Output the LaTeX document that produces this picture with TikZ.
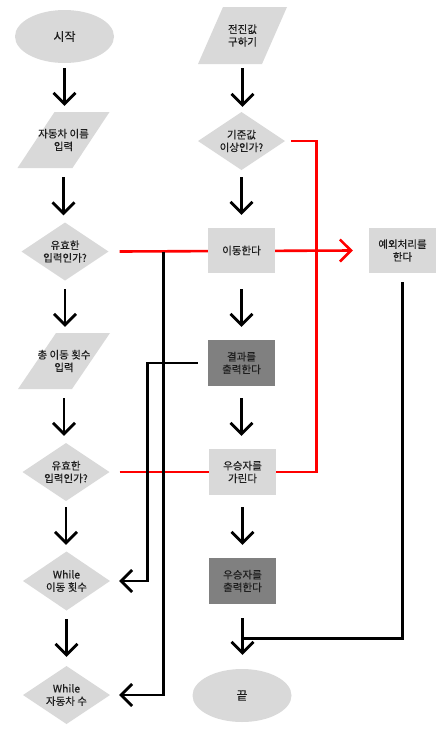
\documentclass[tikz,border=0pt]{standalone}
\usepackage{fontspec}
\setmainfont{Noto Sans CJK KR}[FakeBold=0.35]
\usetikzlibrary{shapes.geometric,arrows.meta,calc,backgrounds}

\definecolor{boxfill}{HTML}{D9D9D9}
\definecolor{darkfill}{HTML}{808080}
\definecolor{inktext}{HTML}{1E1E1E}
\definecolor{flowred}{HTML}{FF0000}

\tikzset{
  pslant/.store in=\pslant, pslant=25pt,
  base/.style={inner sep=0pt, align=center, text=inktext,
    font=\fontsize{10.5}{12.6}\selectfont},
  terminal/.style={base, ellipse, fill=boxfill, minimum width=99pt, minimum height=53pt,
    font=\fontsize{12}{14}\selectfont},
  process/.style={base, rectangle, fill=boxfill, minimum width=67pt, minimum height=45pt},
  output/.style={process, fill=darkfill},
  io/.style={base, rectangle, minimum height=56pt,
    path picture={\fill[boxfill]
      ([xshift=\pslant]path picture bounding box.north west)
      -- (path picture bounding box.north east)
      -- ([xshift=-\pslant]path picture bounding box.south east)
      -- (path picture bounding box.south west) -- cycle;}},
  decision/.style={base, rectangle, minimum width=87pt, minimum height=58pt,
    path picture={\fill[boxfill]
      (path picture bounding box.north) -- (path picture bounding box.east)
      -- (path picture bounding box.south) -- (path picture bounding box.west) -- cycle;}},
  conn/.style={draw=black, line width=2.8pt},
  arr/.style={conn, -{Straight Barb[length=11pt,width=22pt]}},
  redconn/.style={draw=flowred, line width=2.6pt},
  redarr/.style={redconn, -{Straight Barb[length=11pt,width=22pt]}},
}

% vertical arrow below #1 into #2, leaving gap #3 under #1 and gap #4 above #2
\newcommand\flowdown[4]{\draw[arr] ($(#1.south)+(0,#3)$) -- ($(#1.south |- #2.north)+(0,-#4)$);}

\begin{document}
\begin{tikzpicture}[x=1pt,y=-1pt]
\useasboundingbox (0,0) rectangle (443,734);

% left column: input and validation
\node[terminal] (start) at (64.5,36.5) {시작};
\node[io, pslant=37pt, minimum width=92pt] (name) at (63.5,140) {자동차 이름\\입력};
\node[decision] (valid1) at (65,251.5) {유효한\\입력인가?};
\node[io, pslant=38pt, minimum width=92pt] (count) at (64,361) {총 이동 횟수\\입력};
\node[decision] (valid2) at (66,472) {유효한\\입력인가?};
\node[decision, minimum height=59pt] (loop1) at (66.5,581) {While\\이동 횟수};
\node[decision] (loop2) at (66.5,695) {While\\자동차 수};

% middle column: moving and result
\node[io, pslant=25pt, minimum width=89pt, minimum height=57pt] (advance) at (242.5,35.5) {전진값\\구하기};
\node[decision] (check) at (241.5,141) {기준값\\이상인가?};
\node[process] (move) at (241.5,250.5) {이동한다};
\node[output, minimum height=46pt] (result) at (241.5,363) {결과를\\출력한다};
\node[process, minimum height=46pt] (winner) at (242.5,472) {우승자를\\가린다};
\node[output, minimum height=46pt] (winout) at (242.5,581) {우승자를\\출력한다};
\node[terminal] (finish) at (242,695.5) {끝};

% right column: exception
\node[process] (except) at (402.5,250.5) {예외처리를\\한다};

% main flow
\flowdown{start}{name}{5}{6}
\flowdown{name}{valid1}{9}{7}
\flowdown{valid1}{count}{8.5}{6}
\flowdown{count}{valid2}{9}{7}
\flowdown{valid2}{loop1}{6}{6.5}
\flowdown{loop1}{loop2}{8.5}{9}
\flowdown{advance}{check}{4}{5}
\flowdown{check}{move}{7}{13}
\flowdown{move}{result}{16}{13}
\flowdown{result}{winner}{12}{13}
\flowdown{winner}{winout}{12}{13}
\flowdown{winout}{finish}{14}{14}

% invalid / threshold branches, passing behind the boxes
\begin{pgfonlayer}{background}
  \draw[redarr] ($(valid1.east)+(11,0)$) -- ($(except.west)+(-16,0)$);
  \draw[redconn] ($(valid2.east)+(10,0)$) -- (winner.west);
  \draw[redconn] ($(check.east)+(6,0)$) -| ($(winner.east)+(40,0)$) -- (winner.east);
\end{pgfonlayer}

% loop returns
\coordinate (split) at (163.3,251.5);
\draw[arr] (split) |- ($(loop2.east)+(9,0)$);
\draw[arr] ($(result.west)+(-10,0)$) -| ($(loop1.east)+(37,0)$) -- ($(loop1.east)+(9,0)$);

% exception rejoins before the end
\draw[conn] ($(except.south)+(0,9)$) |- ($(winout.south |- finish.north)+(0,-30)$);

\end{tikzpicture}
\end{document}
